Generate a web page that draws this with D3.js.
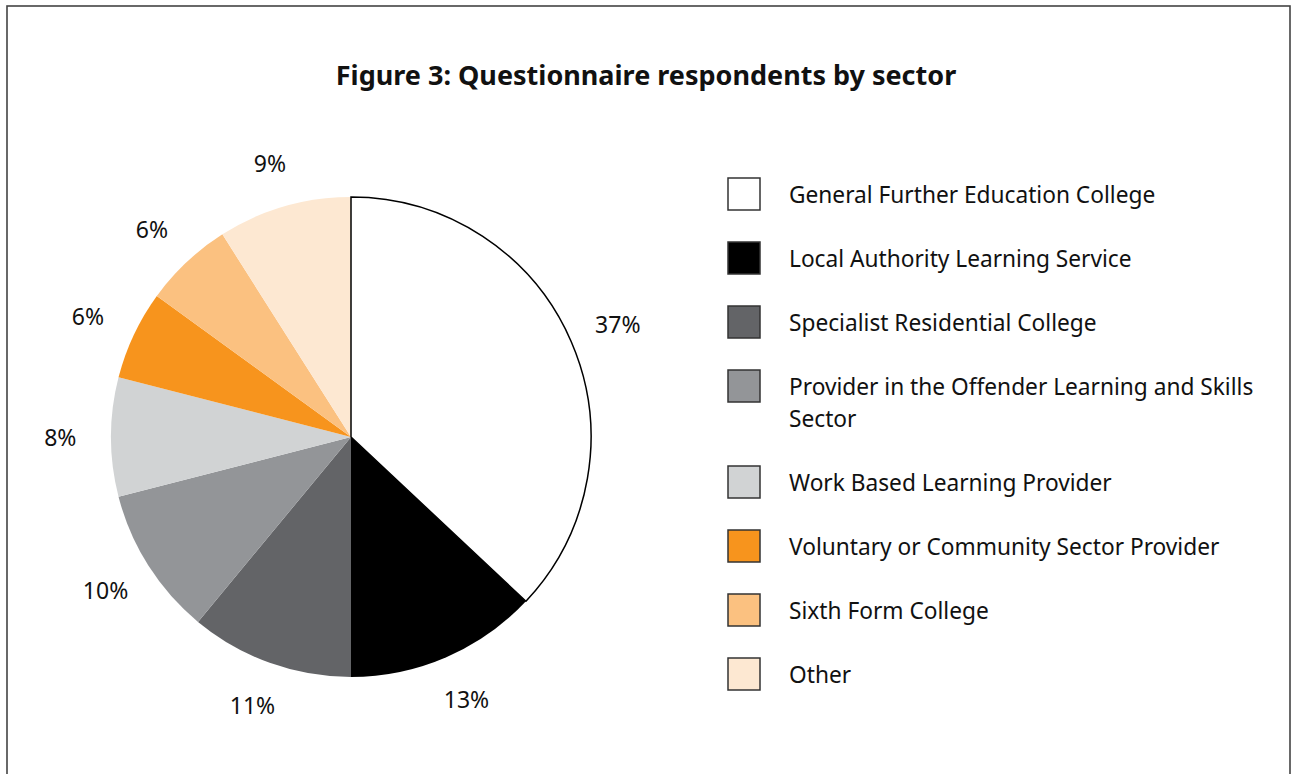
<!DOCTYPE html>
<html>
<head>
<meta charset="utf-8">
<script src="https://cdn.jsdelivr.net/npm/d3@7"></script>
<style>
  body { margin: 0; background: #fff; }
  svg { display: block; font-family: "Noto Sans", sans-serif; }
</style>
</head>
<body>
<svg id="chart" width="1292" height="774"></svg>
<script>
// data
const sectors = [
  "General Further Education College",
  "Local Authority Learning Service",
  "Specialist Residential College",
  "Provider in the Offender Learning and Skills Sector",
  "Work Based Learning Provider",
  "Voluntary or Community Sector Provider",
  "Sixth Form College",
  "Other"
];
const shares = [37, 13, 11, 10, 8, 6, 6, 9];
const sliceColors = ["#ffffff", "#000000", "#636467", "#939598", "#d1d3d4", "#f7941d", "#fbc180", "#fde8d2"];
// legend lines (the fourth entry wraps in the original)
const legendLines = [
  ["General Further Education College"],
  ["Local Authority Learning Service"],
  ["Specialist Residential College"],
  ["Provider in the Offender Learning and Skills", "Sector"],
  ["Work Based Learning Provider"],
  ["Voluntary or Community Sector Provider"],
  ["Sixth Form College"],
  ["Other"]
];
const title = "Figure 3: Questionnaire respondents by sector";

const width = 1292, height = 774;
const cx = 351, cy = 437, radius = 240, labelRadius = 285;

const svg = d3.select("#chart");

// frame
svg.append("rect")
  .attr("x", 7).attr("y", 6)
  .attr("width", 1283).attr("height", 820)
  .attr("fill", "none")
  .attr("stroke", "#444")
  .attr("stroke-width", 1.6);

svg.append("text")
  .attr("x", 646).attr("y", 85)
  .attr("text-anchor", "middle")
  .style("font-weight", "bold")
  .style("font-size", "27px")
  .attr("fill", "#111")
  .text(title);

const color = d3.scaleOrdinal().domain(sectors).range(sliceColors);

const pie = d3.pie().sort(null).value(d => d.value);
const arcs = pie(sectors.map((s, i) => ({ name: s, value: shares[i] })));

const g = svg.append("g").attr("transform", "translate(" + cx + "," + cy + ")");

const arc = d3.arc().innerRadius(0).outerRadius(radius);

g.selectAll("path.slice")
  .data(arcs)
  .enter()
  .append("path")
  .attr("class", "slice")
  .attr("d", arc)
  .attr("fill", d => color(d.data.name));

// only the white slice is outlined
g.append("path")
  .datum(arcs[0])
  .attr("d", arc)
  .attr("fill", "none")
  .attr("stroke", "#000")
  .attr("stroke-width", 1.5);

const labelArc = d3.arc().innerRadius(labelRadius).outerRadius(labelRadius);

g.selectAll("text.pct")
  .data(arcs)
  .enter()
  .append("text")
  .attr("class", "pct")
  .attr("transform", d => {
    const [x, y] = labelArc.centroid(d);
    return "translate(" + (x * 1.02) + "," + y + ")";
  })
  .attr("text-anchor", "middle")
  .attr("dominant-baseline", "central")
  .style("font-size", "23px")
  .attr("fill", "#111")
  .text(d => d.data.value + "%");

// legend
const legendY = d3.scalePoint()
  .domain(d3.range(9))
  .range([194, 706]);
// entries after the wrapped one sit one extra step down
const rowIndex = [0, 1, 2, 3, 5, 6, 7, 8];

const legend = svg.append("g");
const items = legend.selectAll("g.item")
  .data(sectors)
  .enter()
  .append("g")
  .attr("class", "item")
  .attr("transform", (d, i) => "translate(0," + (legendY(rowIndex[i]) - (i >= 4 ? 32 : 0)) + ")");

items.append("rect")
  .attr("x", 728).attr("y", -16)
  .attr("width", 32).attr("height", 32)
  .attr("fill", d => color(d))
  .attr("stroke", "#333")
  .attr("stroke-width", 1.5);

items.append("text")
  .attr("x", 789)
  .attr("y", 0)
  .attr("dominant-baseline", "central")
  .style("font-size", "22.7px")
  .attr("fill", "#111")
  .selectAll("tspan")
  .data((d, i) => legendLines[i])
  .enter()
  .append("tspan")
  .attr("x", 789)
  .attr("dy", (d, i) => i === 0 ? 0 : 32)
  .text(d => d);
</script>
</body>
</html>
